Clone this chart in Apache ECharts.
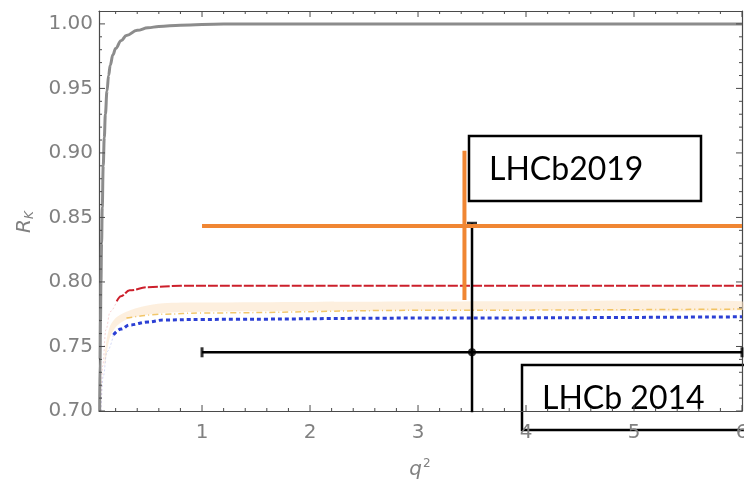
<!DOCTYPE html>
<html>
<head>
<meta charset="utf-8">
<title>R_K vs q2</title>
<script src="https://cdn.jsdelivr.net/npm/echarts@6/dist/echarts.min.js"></script>
<style>
html, body { margin: 0; padding: 0; background: #fff; }
#main { width: 744px; height: 485px; }
</style>
</head>
<body>
<div id="main"></div>
<script>
// axis ticks
const xTicks = [1, 2, 3, 4, 5, 6]
const yTicks = [0.70, 0.75, 0.80, 0.85, 0.90, 0.95, 1.00]

// curves, [q2, R_K]
const grayCurve = [[0.052, 0.70], [0.056, 0.74], [0.06, 0.77], [0.064, 0.80], [0.07, 0.83], [0.076, 0.858],
    [0.085, 0.89], [0.095, 0.912], [0.105, 0.93], [0.12, 0.948], [0.135, 0.96], [0.15, 0.968], [0.175, 0.976],
    [0.2, 0.981], [0.25, 0.987], [0.3, 0.991], [0.4, 0.995], [0.5, 0.997], [0.6, 0.998], [0.8, 0.999],
    [1.2, 1.0], [3, 1.0], [6, 1.0]]
const redFaint = [[0.062, 0.70], [0.08, 0.735], [0.11, 0.763], [0.15, 0.777], [0.21, 0.785]]
const redCurve = [[0.21, 0.785], [0.25, 0.789], [0.33, 0.7935], [0.5, 0.796], [0.8, 0.797], [2, 0.797], [6, 0.797]]
const blueFaint = [[0.064, 0.70], [0.085, 0.727], [0.12, 0.746], [0.18, 0.759]]
const blueCurve = [[0.18, 0.759], [0.25, 0.7635], [0.33, 0.7667], [0.5, 0.769], [0.64, 0.7705], [1, 0.771],
    [3, 0.772], [6, 0.773]]
const yellowCurve = [[0.3, 0.772], [0.64, 0.775], [1, 0.776], [3, 0.778], [6, 0.779]]
const bandX = [0.1, 0.14, 0.2, 0.3, 0.45, 0.64, 1, 2, 4, 6]
const bandLow = [0.735, 0.755, 0.765, 0.771, 0.774, 0.776, 0.777, 0.7775, 0.778, 0.778]
const bandHigh = [0.745, 0.764, 0.772, 0.777, 0.781, 0.7835, 0.784, 0.7845, 0.785, 0.785]

// measurements: [low, centre, high]
const lhcb2014Q2 = [1, 3.5, 6]
const lhcb2014RK = [0.671, 0.7455, 0.8455]
const lhcb2019Q2 = [1, 3.43, 6]
const lhcb2019RK = [0.786, 0.8434, 0.9016]

const xMin = 0.046, xMax = 6, yMin = 0.70, yMax = 1.01

const minorX = []
for (let i = 1; i < 30; i++) if (i % 5) minorX.push(i * 0.2)
const minorY = []
for (let i = 71; i < 100; i++) if (i % 5) minorY.push(i / 100)

const frameColor = '#4a4a4a'
const labelColor = '#808080'

function renderTicks(params, api) {
    const cs = params.coordSys
    const top = cs.y, bottom = cs.y + cs.height, left = cs.x, right = cs.x + cs.width
    const children = []
    const seg = (x1, y1, x2, y2) => children.push({
        type: 'line', shape: { x1, y1, x2, y2 }, style: { stroke: frameColor, lineWidth: 1 }
    })
    const xt = (v, len) => {
        const x = api.coord([v, yMin])[0]
        seg(x, bottom, x, bottom - len)
        seg(x, top, x, top + len)
    }
    const yt = (v, len) => {
        const y = api.coord([xMin, v])[1]
        seg(left, y, left + len, y)
        seg(right, y, right - len, y)
    }
    xTicks.forEach(v => xt(v, 6))
    minorX.forEach(v => xt(v, 3))
    yTicks.forEach(v => yt(v, 6))
    minorY.forEach(v => yt(v, 3))
    return { type: 'group', children }
}

function renderBand(params, api) {
    const pts = []
    bandX.forEach((x, i) => pts.push(api.coord([x, bandHigh[i]])))
    for (let i = bandX.length - 1; i >= 0; i--) pts.push(api.coord([bandX[i], bandLow[i]]))
    return { type: 'polygon', shape: { points: pts, smooth: 0.3 }, style: { fill: 'rgba(252,228,200,0.6)' } }
}

function curve(data, color, width, type, opacity) {
    return {
        type: 'line', data, showSymbol: false, smooth: 0.4, smoothMonotone: 'x',
        lineStyle: { color, width, type, opacity: opacity == null ? 1 : opacity },
        silent: true, z: 3
    }
}

function segment(data, color, width, z) {
    return {
        type: 'line', data, showSymbol: false, clip: true,
        lineStyle: { color, width }, silent: true, z
    }
}

const axisLine = { show: true, lineStyle: { color: frameColor, width: 1.2 } }

const chart = echarts.init(document.getElementById('main'))
chart.setOption({
    animation: false,
    grid: { left: 99, right: 2, top: 11, bottom: 74, outerBoundsMode: 'none', containLabel: false },
    xAxis: [{
        type: 'value', min: xMin, max: xMax, position: 'bottom',
        axisLine, axisTick: { show: false }, splitLine: { show: false },
        axisLabel: {
            customValues: xTicks, color: labelColor, fontSize: 20, fontFamily: 'DejaVu Sans', margin: 12
        }
    }, {
        type: 'value', min: xMin, max: xMax, position: 'top',
        axisLine, axisTick: { show: false }, axisLabel: { show: false }, splitLine: { show: false }
    }],
    yAxis: [{
        type: 'value', min: yMin, max: yMax, position: 'left',
        axisLine, axisTick: { show: false }, splitLine: { show: false },
        axisLabel: {
            customValues: yTicks, formatter: v => v.toFixed(2),
            color: labelColor, fontSize: 20, fontFamily: 'DejaVu Sans', margin: 6
        }
    }, {
        type: 'value', min: yMin, max: yMax, position: 'right',
        axisLine, axisTick: { show: false }, axisLabel: { show: false }, splitLine: { show: false }
    }],
    series: [
        { type: 'custom', renderItem: renderBand, data: [[1, 0.78]], silent: true, z: 1 },
        curve(redFaint, '#e07070', 1, [2, 2], 0.3),
        curve(blueFaint, '#7080e0', 1, [2, 2], 0.3),
        curve(grayCurve, '#8c8c8c', 3, 'solid'),
        curve(yellowCurve, '#eeb43a', 1.5, [6, 3, 1, 3], 0.75),
        curve(redCurve, '#cc1f2b', 2, [10, 2]),
        curve(blueCurve, '#2b3fd4', 3, [4, 3]),
        segment([[lhcb2014Q2[0], lhcb2014RK[1]], [lhcb2014Q2[2], lhcb2014RK[1]]], '#000', 2.5, 5),
        segment([[lhcb2014Q2[1], lhcb2014RK[0]], [lhcb2014Q2[1], lhcb2014RK[2]]], '#000', 2.5, 5),
        {
            type: 'scatter', symbol: 'rect', symbolSize: [3, 10], silent: true, z: 5,
            data: [[lhcb2014Q2[0], lhcb2014RK[1]], [lhcb2014Q2[2], lhcb2014RK[1]]],
            itemStyle: { color: '#000' }
        },
        {
            type: 'scatter', symbol: 'rect', symbolSize: [10, 3], silent: true, z: 5,
            data: [[lhcb2014Q2[1], lhcb2014RK[2]]], itemStyle: { color: '#000' }
        },
        {
            type: 'scatter', symbol: 'circle', symbolSize: 8, silent: true, z: 6,
            data: [[lhcb2014Q2[1], lhcb2014RK[1]]], itemStyle: { color: '#000' }
        },
        segment([[lhcb2019Q2[0], lhcb2019RK[1]], [lhcb2019Q2[2], lhcb2019RK[1]]], '#f08633', 4, 7),
        segment([[lhcb2019Q2[1], lhcb2019RK[0]], [lhcb2019Q2[1], lhcb2019RK[2]]], '#f08633', 4, 7),
        { type: 'custom', renderItem: renderTicks, data: [[1, 0.8]], silent: true, z: 8 }
    ],
    graphic: [
        {
            type: 'text', x: 25, y: 222, rotation: Math.PI / 2, z: 100,
            style: {
                text: '{r|R}{k|K}', align: 'center', verticalAlign: 'middle',
                rich: {
                    r: { fontSize: 20, fontStyle: 'italic', fontFamily: 'DejaVu Sans', fill: labelColor },
                    k: { fontSize: 12, fontStyle: 'italic', fontFamily: 'DejaVu Sans', fill: labelColor, padding: [10, 0, 0, 0] }
                }
            }
        },
        {
            type: 'text', x: 420, y: 470, z: 100,
            style: {
                text: '{q|q}{s|2}', align: 'center', verticalAlign: 'middle',
                rich: {
                    q: { fontSize: 20, fontStyle: 'italic', fontFamily: 'DejaVu Sans', fill: labelColor },
                    s: { fontSize: 12, fontFamily: 'DejaVu Sans', fill: labelColor, padding: [0, 0, 12, 1] }
                }
            }
        },
        {
            type: 'group', z: 100, children: [
                { type: 'rect', shape: { x: 469, y: 136, width: 232, height: 65 }, style: { fill: '#fff', stroke: '#000', lineWidth: 2.5 } },
                { type: 'text', x: 489, y: 170, style: { text: 'LHCb2019', fontSize: 32, fontFamily: 'Lato', fill: '#000', verticalAlign: 'middle' } },
                { type: 'rect', shape: { x: 522, y: 365, width: 240, height: 65 }, style: { fill: '#fff', stroke: '#000', lineWidth: 2.5 } },
                { type: 'text', x: 542, y: 399, style: { text: 'LHCb 2014', fontSize: 32, fontFamily: 'Lato', fill: '#000', verticalAlign: 'middle' } }
            ]
        }
    ]
})
</script>
</body>
</html>
